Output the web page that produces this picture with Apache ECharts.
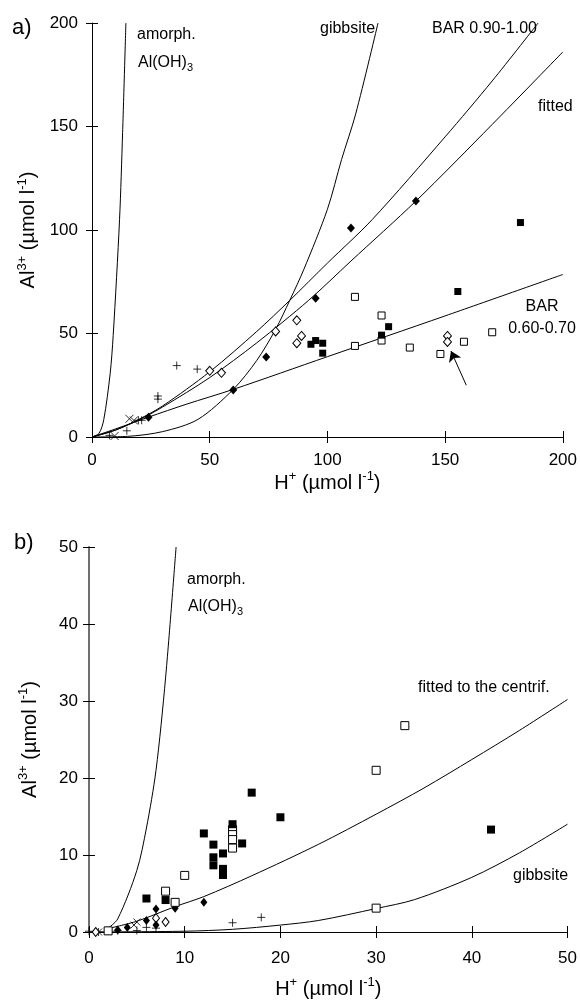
<!DOCTYPE html>
<html>
<head>
<meta charset="utf-8">
<script src="https://cdn.jsdelivr.net/npm/echarts@6/dist/echarts.min.js"></script>
<style>
  html, body { margin: 0; padding: 0; background: #fff; }
  #chart { width: 580px; height: 1003px; }
</style>
</head>
<body>
<div id="chart"></div>
<script>
// ---------- panel a: H+ vs Al3+ (0-200 µmol/l) ----------
const ticksA = [0, 50, 100, 150, 200];
const aAmorph   = [[0,0],[3,1.8],[5,8.4],[7.7,30.5],[9,49],[11.7,105],[13,147],[14.4,200]];
const aGibbsite = [[0,0],[15,0.3],[30,2.6],[45,8.5],[60,23],[70,37],[78,52],[84,66],[90,81],[100,110],[106,134],[112,156],[121.5,200]];
const aBar090   = [[0,0],[10,3.3],[20,8.6],[30,15],[50,31.5],[70,51],[84,66],[100,84],[119,105],[150,145],[170,172],[189.5,200]];
const aFitted   = [[0,0],[10,3.4],[20,8.3],[30,14.5],[50,28.7],[70,45.5],[92,66],[110,85],[137.6,114],[170,151],[200,186]];
const aBar060   = [[0,0],[10,3.9],[24,9.6],[40,15.8],[60,23],[100,38.8],[150,58.5],[200,78.5]];

const aFilledDiamond = [[24,9.5],[60,22.7],[74,38.7],[95,67],[110,101],[137.6,114]];
const aOpenDiamond   = [[50,32],[55,31],[78,51],[87,56.4],[89,48.8],[87,45.3],[151,48.8],[151,45.9]];
const aFilledSquare  = [[93,44.8],[95,46.6],[98,45.3],[98,40.5],[123,49.2],[126,53.3],[155.4,70.3],[182,103.6]];
const aOpenSquare    = [[111.7,67.7],[111.7,44],[123,58.7],[123,46.6],[135,43.2],[148,40.1],[158,46],[170,50.6]];
const aPlus          = [[36,34.5],[44.7,32.8],[28,19.8],[28,18.3],[19.7,8.1],[21.1,8.1],[14.8,3],[7.4,0.8]];
const aCross         = [[15.9,8.8],[17.8,8],[9.6,0.5]];
const aArrow         = [[159,25],[152.5,41.5]];

// ---------- panel b: H+ vs Al3+ (0-50 µmol/l) ----------
const ticksB = [0, 10, 20, 30, 40, 50];
const bAmorph   = [[2,0.5],[3,1.7],[5,8],[6,13.5],[7,21],[8,33],[9.1,50]];
const bGibbsite = [[0,0],[10,0.1],[15,0.35],[20,0.9],[24,1.5],[30,3.05],[34,4.2],[40,7.1],[45,10.3],[50,14]];
const bFitted   = [[2,0.45],[5,1.4],[9,3.3],[12,4.6],[17,7.3],[24,11.4],[30,15.3],[35,18.7],[40,22.4],[45,26.2],[50,30.2]];

const bFilledSquare  = [[6,4.35],[8,4.15],[12,12.8],[13,11.35],[13,9.7],[13,8.66],[14,10.2],[14,8.2],[14,7.4],[15,14],[16,11.5],[17,18.1],[20,14.9],[42,13.3]];
const bOpenSquare    = [[2,0.15],[8,5.3],[9,3.85],[10,7.35],[15,13.3],[15,12.65],[15,12],[15,10.9],[30,21],[33,26.8],[30,3.1]];
const bFilledDiamond = [[3,0.25],[4,0.6],[6,1.5],[7,3],[7,0.9],[9,3.1],[12,3.85]];
const bOpenDiamond   = [[0.7,0],[7,1.8],[8,1.3]];
const bPlus          = [[0,0.1],[1,0],[3,0.2],[5,0.2],[6,0.6],[7,0.5],[15,1.2],[18,1.9]];
const bCross         = [[1,0],[4.7,0.9],[5,1.3]];

// ---------- styling ----------
const FONT = '"Liberation Sans", Arial, Helvetica, sans-serif';
const INK = '#000';

const titleRich = {
  b: { fontFamily: FONT, fontSize: 20, color: INK, lineHeight: 26 },
  s: { fontFamily: FONT, fontSize: 13, color: INK, lineHeight: 12, verticalAlign: 'top' }
};
const xTitle = '{b|H}{s|+}{b| (µmol l}{s|-1}{b|)}';
const yTitle = '{b|Al}{s|3+}{b| (µmol l}{s|-1}{b|)}';

const PLUS = 'path://M4,0L4,8M0,4L8,4';
const CROSS = 'path://M0,0L8,8M8,0L0,8';

// Each axis is drawn twice (outside + inside ticks) so the tick marks cross the axis line.
function axisPair(dim, grid, max, interval, o) {
  const base = {
    gridIndex: grid, type: 'value', min: 0, max: max, interval: interval,
    position: dim === 'x' ? 'bottom' : 'left',
    splitLine: { show: false }
  };
  const main = Object.assign({}, base, {
    axisLine: { show: true, onZero: false, lineStyle: { color: o.lineColor || INK, width: o.lineWidth || 1 } },
    axisTick: { show: true, inside: false, length: 6, lineStyle: { color: INK, width: 1 } },
    axisLabel: { show: true, margin: o.margin, color: INK, fontFamily: FONT, fontSize: 17 },
    name: dim === 'x' ? xTitle : yTitle,
    nameLocation: 'middle',
    nameGap: o.nameGap,
    nameRotate: dim === 'x' ? 0 : 90,
    nameTextStyle: { rich: titleRich }
  });
  const ghost = Object.assign({}, base, {
    axisLine: { show: false, onZero: false },
    axisTick: { show: true, inside: true, length: 6, lineStyle: { color: INK, width: 1 } },
    axisLabel: { show: false }
  });
  return [main, ghost];
}

function curve(data, xi, yi) {
  return {
    type: 'line', data: data, xAxisIndex: xi, yAxisIndex: yi,
    symbol: 'none', showSymbol: false, smooth: 0.3,
    lineStyle: { color: INK, width: 1 }, silent: true, z: 2
  };
}

function marks(data, xi, yi, symbol, size, filled, stroke) {
  return {
    type: 'scatter', data: data, xAxisIndex: xi, yAxisIndex: yi,
    symbol: symbol, symbolSize: size, silent: true, z: 3,
    itemStyle: stroke
      ? { color: 'none', borderColor: INK, borderWidth: 1 }
      : { color: filled ? INK : '#fff', borderColor: INK, borderWidth: filled ? 0 : 1, opacity: 1 }
  };
}

const xa = axisPair('x', 0, ticksA[ticksA.length - 1], ticksA[1] - ticksA[0], { margin: 15, nameGap: 33 });
const ya = axisPair('y', 0, ticksA[ticksA.length - 1], ticksA[1] - ticksA[0], { margin: 14, nameGap: 44 });
const xb = axisPair('x', 1, ticksB[ticksB.length - 1], ticksB[1] - ticksB[0], { margin: 18, nameGap: 44 });
const yb = axisPair('y', 1, ticksB[ticksB.length - 1], ticksB[1] - ticksB[0], { margin: 11, nameGap: 46, lineColor: '#707070', lineWidth: 2 });

function txt(x, y, text, align, size) {
  return {
    type: 'text', x: x, y: y, silent: true,
    style: { text: text, fontFamily: FONT, fontSize: size || 16, fill: INK, align: align || 'left', verticalAlign: 'middle' }
  };
}
function subTxt(x, y) {
  return {
    type: 'text', x: x, y: y, silent: true,
    style: {
      text: '{a|Al(OH)}{u|3}', align: 'left', verticalAlign: 'middle',
      rich: {
        a: { fontFamily: FONT, fontSize: 16, fill: INK, lineHeight: 20 },
        u: { fontFamily: FONT, fontSize: 11, fill: INK, lineHeight: 11, verticalAlign: 'bottom' }
      }
    }
  };
}

const arrowSeries = curve(aBar060, 0, 0);
arrowSeries.markLine = {
  silent: true, animation: false,
  symbol: ['none', 'arrow'], symbolSize: 10,
  lineStyle: { color: INK, width: 1, type: 'solid' },
  label: { show: false },
  data: [[{ coord: aArrow[0] }, { coord: aArrow[1] }]]
};

const option = {
  animation: false,
  backgroundColor: '#fff',
  grid: [
    { left: 92, top: 23, width: 474, height: 414 },
    { left: 89, top: 547, width: 480, height: 385 }
  ],
  xAxis: [xa[0], xa[1], xb[0], xb[1]],
  yAxis: [ya[0], ya[1], yb[0], yb[1]],
  graphic: [
    txt(12, 28, 'a)', 'left', 22),
    txt(14, 543, 'b)', 'left', 22),
    txt(137, 35, 'amorph.'),
    subTxt(138, 63),
    txt(320, 29, 'gibbsite'),
    txt(432, 29, 'BAR 0.90-1.00'),
    txt(538, 107, 'fitted'),
    txt(542, 307, 'BAR', 'center'),
    txt(542, 329, '0.60-0.70', 'center'),
    txt(187, 580, 'amorph.'),
    subTxt(188, 607),
    txt(418, 688, 'fitted to the centrif.'),
    txt(513, 876, 'gibbsite')
  ],
  series: [
    curve(aAmorph, 0, 0),
    curve(aGibbsite, 0, 0),
    curve(aBar090, 0, 0),
    curve(aFitted, 0, 0),
    arrowSeries,
    marks(aPlus, 0, 0, PLUS, 8, false, true),
    marks(aCross, 0, 0, CROSS, 8, false, true),
    marks(aOpenDiamond, 0, 0, 'diamond', [8, 9], false),
    marks(aFilledDiamond, 0, 0, 'diamond', [8, 9], true),
    marks(aOpenSquare, 0, 0, 'rect', 7, false),
    marks(aFilledSquare, 0, 0, 'rect', 7, true),

    curve(bAmorph, 2, 2),
    curve(bGibbsite, 2, 2),
    curve(bFitted, 2, 2),
    marks(bPlus, 2, 2, PLUS, 8, false, true),
    marks(bCross, 2, 2, CROSS, 7, false, true),
    marks(bOpenDiamond, 2, 2, 'diamond', [7, 9], false),
    marks(bFilledDiamond, 2, 2, 'diamond', [7, 9], true),
    marks(bOpenSquare, 2, 2, 'rect', 8, false),
    marks(bFilledSquare, 2, 2, 'rect', 8, true)
  ]
};

const chart = echarts.init(document.getElementById('chart'), null, { renderer: 'canvas' });
chart.setOption(option);
</script>
</body>
</html>
